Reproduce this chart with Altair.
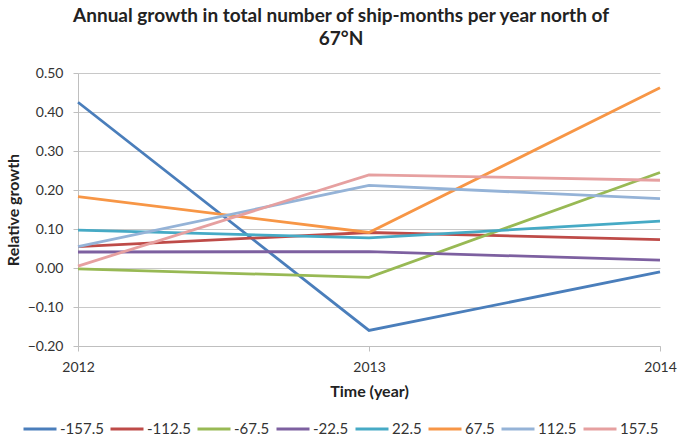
import altair as alt
import pandas as pd

years = [2012, 2013, 2014]
series_names = ["-157.5", "-112.5", "-67.5", "-22.5", "22.5", "67.5", "112.5", "157.5"]
colors = ["#4A7EBB", "#BE4B48", "#98B954", "#7D60A0", "#46AAC5", "#F79646", "#95B3D7", "#E6A0A0"]

s_m157 = [0.425, -0.160, -0.010]
s_m112 = [0.055, 0.091, 0.073]
s_m67 = [-0.002, -0.024, 0.245]
s_m22 = [0.041, 0.042, 0.020]
s_p22 = [0.097, 0.077, 0.120]
s_p67 = [0.183, 0.091, 0.462]
s_p112 = [0.055, 0.212, 0.178]
s_p157 = [0.005, 0.239, 0.225]

all_series = [s_m157, s_m112, s_m67, s_m22, s_p22, s_p67, s_p112, s_p157]

rows = []
for i, (name, vals) in enumerate(zip(series_names, all_series)):
    for y, v in zip(years, vals):
        rows.append({"yr": str(y), "growth": v, "series": name, "order": i})
df = pd.DataFrame(rows)

FONT = "Lato"

chart = alt.Chart(df).mark_line(strokeWidth=2.8).encode(
    x=alt.X("yr:O",
            scale=alt.Scale(type="point", padding=0, domain=[str(y) for y in years]),
            axis=alt.Axis(title="Time (year)", grid=False, labelAngle=0,
                          tickColor="#bfbfbf", domainColor="#bfbfbf", tickSize=5,
                          labelFontSize=14, labelColor="#333333", labelPadding=9,
                          labelOverlap=False, labelBound=False,
                          titleFontSize=16, titleFontWeight="bold", titleColor="#222222",
                          titlePadding=9)),
    y=alt.Y("growth:Q",
            scale=alt.Scale(domain=[-0.2, 0.5], nice=False, zero=False),
            axis=alt.Axis(values=[-0.2, -0.1, 0.0, 0.1, 0.2, 0.3, 0.4, 0.5], format=".2f",
                          title="Relative growth", grid=True, gridColor="#c8c8c8",
                          domainColor="#bfbfbf", tickColor="#bfbfbf", tickSize=5,
                          labelFontSize=14, labelColor="#333333", labelPadding=10,
                          labelOverlap=False,
                          titleFontSize=16, titleFontWeight="bold", titleColor="#222222",
                          titlePadding=6)),
    color=alt.Color("series:N",
                    scale=alt.Scale(domain=series_names, range=colors),
                    sort=series_names,
                    legend=alt.Legend(orient="none", legendX=-56, legendY=338,
                                      direction="horizontal", columns=8, title=None,
                                      symbolType="stroke", symbolSize=1089,
                                      symbolStrokeWidth=3, labelFontSize=15,
                                      labelColor="#333333", labelOffset=2,
                                      columnPadding=0, labelFont=FONT)),
    order=alt.Order("order:Q"),
    detail="series:N",
).properties(
    width=582,
    height=273,
    autosize=alt.AutoSizeParams(type="none"),
    padding={"left": 78, "top": 73, "right": 18, "bottom": 95},
    title=alt.TitleParams(
        text=["Annual growth in total number of ship-months per year north of", "67°N"],
        fontSize=19, fontWeight="bold", font=FONT, color="#222222",
        anchor="middle", lineHeight=23, dx=-28, offset=17),
).configure_view(stroke=None).configure_axis(labelFont=FONT, titleFont=FONT)

chart.save("out.html", embed_options={"renderer": "svg", "actions": False})
